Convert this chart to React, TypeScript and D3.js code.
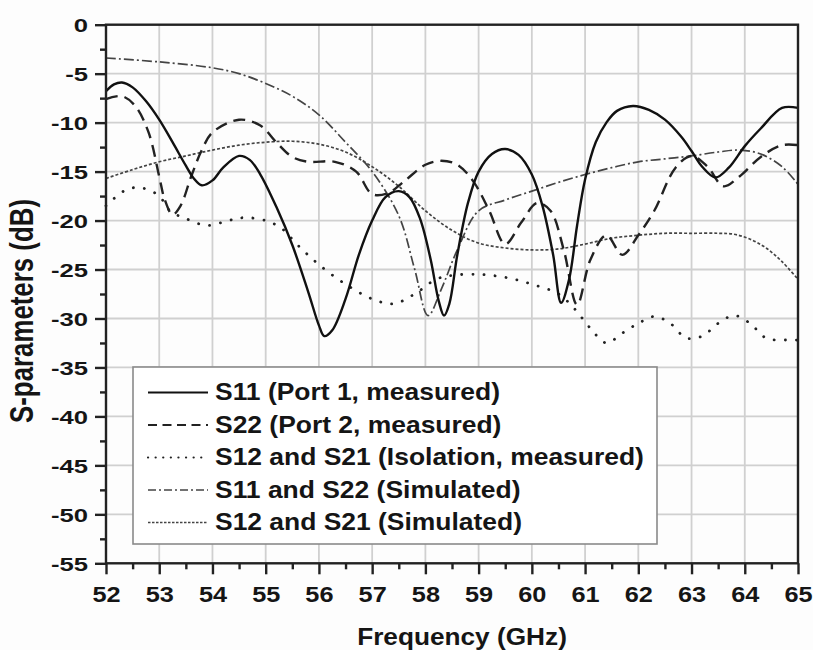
import React, { useEffect, useRef } from "react";
import * as d3 from "d3";

const xTicks = [52, 53, 54, 55, 56, 57, 58, 59, 60, 61, 62, 63, 64, 65];
const yTicks = [0, -5, -10, -15, -20, -25, -30, -35, -40, -45, -50, -55];

const s11Freq = [52, 52.15, 52.3, 52.5, 52.75, 53, 53.25, 53.5, 53.65, 53.8, 54, 54.2, 54.5, 54.7, 54.9, 55.2, 55.5, 55.8, 56, 56.1, 56.25, 56.5, 56.75, 57, 57.25, 57.5, 57.7, 57.9, 58.1, 58.25, 58.35, 58.45, 58.6, 58.8, 59, 59.25, 59.5, 59.75, 60, 60.2, 60.4, 60.55, 60.7, 60.85, 61, 61.2, 61.4, 61.6, 61.9, 62.2, 62.5, 62.8, 63.0, 63.2, 63.45, 63.7, 64.0, 64.3, 64.7, 65];
const s11Vals = [-6.8, -6.1, -5.9, -6.4, -7.8, -9.7, -12.0, -14.4, -15.7, -16.4, -15.9, -14.6, -13.4, -13.8, -15.3, -18.6, -22.5, -27.3, -30.7, -31.8, -31.2, -28.0, -23.5, -20.0, -17.6, -17.0, -17.6, -19.8, -24.0, -28.2, -29.7, -28.5, -23.5, -18.2, -15.0, -13.2, -12.7, -13.3, -15.3, -18.5, -23.5, -28.4, -26.0, -20.5, -15.8, -12.0, -10.0, -8.8, -8.3, -8.7, -9.7, -11.4, -12.9, -14.5, -15.6, -14.6, -12.4, -10.6, -8.5, -8.5];

const s22Freq = [52, 52.3, 52.55, 52.8, 53.0, 53.1, 53.25, 53.4, 53.6, 53.8, 54.0, 54.5, 54.9, 55.2, 55.5, 55.8, 56.3, 56.7, 57.0, 57.3, 57.6, 58.0, 58.3, 58.6, 58.9, 59.2, 59.5, 59.8, 60.1, 60.35, 60.6, 60.85, 61.1, 61.4, 61.7, 62.0, 62.3, 62.7, 63.0, 63.3, 63.6, 63.9, 64.3, 64.7, 65];
const s22Vals = [-7.6, -7.3, -8.3, -11.0, -15.5, -17.8, -19.4, -18.5, -15.5, -12.8, -11.0, -9.7, -10.3, -12.0, -13.5, -14.0, -14.0, -15.0, -17.3, -17.2, -16.0, -14.3, -13.9, -14.3, -16.0, -19.0, -22.4, -20.2, -18.2, -19.0, -23.0, -28.6, -24.0, -21.5, -23.5, -21.5, -19.0, -14.6, -13.4, -14.5, -16.5, -15.5, -13.5, -12.3, -12.3];

const isoFreq = [52, 52.4, 52.7, 53.0, 53.2, 53.5, 53.9, 54.3, 54.6, 55.0, 55.3, 55.6, 56.0, 56.5, 57.0, 57.4, 57.8, 58.2, 58.5, 59.0, 59.5, 60.0, 60.5, 60.8, 61.1, 61.4, 61.7, 62.0, 62.3, 62.6, 62.9, 63.2, 63.5, 63.8, 64.1, 64.4, 64.8, 65];
const isoVals = [-18.5, -16.8, -16.7, -17.5, -19.0, -19.8, -20.5, -20.0, -19.7, -20.0, -20.8, -22.5, -24.5, -26.5, -28.0, -28.5, -27.5, -26.0, -25.6, -25.5, -25.8, -26.5, -27.5, -29.0, -31.0, -32.5, -31.5, -30.5, -29.8, -30.5, -32.0, -31.8, -30.5, -29.7, -30.5, -32.0, -32.2, -32.2];

const simRFreq = [52, 53, 54, 54.5, 55, 55.5, 56, 56.5, 57, 57.5, 57.8, 58.05, 58.3, 58.6, 59, 59.5, 60, 60.5, 61, 61.5, 62, 62.5, 63, 63.5, 63.9, 64.3, 64.7, 65];
const simRVals = [-3.4, -3.8, -4.4, -5.0, -6.0, -7.3, -9.2, -12.0, -15.0, -19.5, -25.0, -29.7, -27.0, -23.0, -19.0, -17.9, -17.0, -16.1, -15.3, -14.6, -14.0, -13.7, -13.4, -13.0, -12.8, -13.2, -14.5, -16.3];

const simIFreq = [52, 52.5, 53, 53.5, 54, 54.5, 55, 55.5, 56, 56.5, 57, 57.5, 58, 58.5, 59, 59.5, 60, 60.5, 61, 61.5, 62, 62.5, 63, 63.5, 63.8, 64.1, 64.4, 64.7, 65];
const simIVals = [-15.7, -14.8, -14.0, -13.4, -12.8, -12.3, -12.0, -11.9, -12.2, -13.0, -14.5, -16.5, -19.0, -21.0, -22.3, -22.8, -23.0, -22.9, -22.4, -21.8, -21.5, -21.3, -21.3, -21.3, -21.4, -21.9, -22.8, -24.2, -26.0];

const legendLabels = [
  "S11 (Port 1, measured)",
  "S22 (Port 2, measured)",
  "S12 and S21 (Isolation, measured)",
  "S11 and S22 (Simulated)",
  "S12 and S21 (Simulated)",
];

const W = 813, H = 650;
const L = 106, R = 798, T = 24.7, B = 563.3;
const FONT = "'Liberation Sans', Arial, sans-serif";
const INK = "#151515";

const styles = [
  { stroke: "#111", width: 2.4, dash: null as string | null, cap: "butt" },
  { stroke: "#222", width: 2.4, dash: "12 7", cap: "butt" },
  { stroke: "#222", width: 2.8, dash: "0.1 11", cap: "round" },
  { stroke: "#444", width: 1.7, dash: "10 3 2 3", cap: "butt" },
  { stroke: "#444", width: 1.7, dash: "3 2", cap: "butt" },
];

export default function App() {
  const ref = useRef<SVGSVGElement>(null);
  useEffect(() => {
    const svg = d3.select(ref.current);
    svg.selectAll("*").remove();
    const x = d3.scaleLinear().domain([52, 65]).range([L, R]);
    const y = d3.scaleLinear().domain([-55, 0]).range([B, T]);

    svg.append("rect").attr("width", W).attr("height", H).attr("fill", "#fdfdfd");

    const g = svg.append("g");
    g.selectAll("line.gx").data(xTicks.slice(1, -1)).enter().append("line")
      .attr("x1", (d) => x(d)).attr("x2", (d) => x(d)).attr("y1", T).attr("y2", B)
      .attr("stroke", "#d0d0d0").attr("stroke-width", 1.8);
    g.selectAll("line.gy").data(yTicks.slice(1, -1)).enter().append("line")
      .attr("y1", (d) => y(d)).attr("y2", (d) => y(d)).attr("x1", L).attr("x2", R)
      .attr("stroke", "#d0d0d0").attr("stroke-width", 1.8);

    const series = [
      [s11Freq, s11Vals], [s22Freq, s22Vals], [isoFreq, isoVals], [simRFreq, simRVals], [simIFreq, simIVals],
    ];
    const line = d3.line<[number, number]>().x((d) => x(d[0])).y((d) => y(d[1])).curve(d3.curveCatmullRom.alpha(0.5));
    [4, 3, 2, 1, 0].forEach((i) => {
      const [fs, vs] = series[i];
      const pts = fs.map((f, k) => [f, vs[k]] as [number, number]);
      const st = styles[i];
      const p = g.append("path").attr("d", line(pts) as string).attr("fill", "none")
        .attr("stroke", st.stroke).attr("stroke-width", st.width).attr("stroke-linecap", st.cap);
      if (st.dash) p.attr("stroke-dasharray", st.dash);
    });

    // legend
    const lg = svg.append("g");
    lg.append("rect").attr("x", 133).attr("y", 367).attr("width", 524).attr("height", 177)
      .attr("fill", "#fff").attr("stroke", "#8a8a8a").attr("stroke-width", 1.6);
    legendLabels.forEach((lab, i) => {
      const base = 400 + i * 32.5;
      const cy = base - 7.5;
      const st = styles[i];
      const ln = lg.append("line").attr("x1", 148).attr("x2", 208).attr("y1", cy).attr("y2", cy)
        .attr("stroke", st.stroke).attr("stroke-width", i >= 3 ? 1.7 : 2.2).attr("stroke-linecap", st.cap);
      if (i === 1) ln.attr("stroke-dasharray", "9 5.5");
      else if (i === 2) ln.attr("stroke-dasharray", "0.1 7.5");
      else if (i === 3) ln.attr("stroke-dasharray", "8 3 2 3");
      else if (i === 4) ln.attr("stroke-dasharray", "2.5 1.5");
      lg.append("text").attr("transform", `translate(215,${base}) scale(1.15,1)`).text(lab)
        .attr("font-family", FONT).attr("font-weight", "bold").attr("font-size", 23).attr("fill", INK);
    });

    // frame
    svg.append("rect").attr("x", L).attr("y", T).attr("width", R - L).attr("height", B - T)
      .attr("fill", "none").attr("stroke", "#222").attr("stroke-width", 2.4);

    // x axis ticks
    const ax = svg.append("g").attr("transform", `translate(0,${B})`)
      .call(d3.axisBottom(x).tickValues(d3.range(52, 65.01, 0.5)).tickSize(0).tickFormat(() => ""));
    ax.select(".domain").remove();
    ax.selectAll(".tick line").remove();
    ax.selectAll(".tick").append("line")
      .attr("y2", (d: any) => (Number.isInteger(d) ? 11 : 6)).attr("stroke", "#222").attr("stroke-width", 2.4);
    ax.selectAll(".tick text").remove();
    ax.selectAll(".tick").filter((d: any) => Number.isInteger(d)).append("text")
      .attr("transform", "translate(0,38.7) scale(1.15,1)").attr("text-anchor", "middle")
      .attr("font-family", FONT).attr("font-weight", "bold").attr("font-size", 22).attr("fill", INK)
      .text((d: any) => String(d));

    // y axis ticks
    const ay = svg.append("g").attr("transform", `translate(${L},0)`)
      .call(d3.axisLeft(y).tickValues(d3.range(-55, 0.01, 2.5)).tickSize(0).tickFormat(() => ""));
    ay.select(".domain").remove();
    ay.selectAll(".tick line").remove();
    ay.selectAll(".tick").append("line")
      .attr("x2", (d: any) => (Number.isInteger(d / 5) ? -11 : -6)).attr("stroke", "#222").attr("stroke-width", 2.4);
    ay.selectAll(".tick text").remove();
    ay.selectAll(".tick").filter((d: any) => Number.isInteger(d / 5)).append("text")
      .attr("transform", "translate(-18,7) scale(1.35,1)").attr("text-anchor", "end")
      .attr("font-family", FONT).attr("font-weight", "bold").attr("font-size", 19).attr("fill", INK)
      .text((d: any) => String(d));

    svg.append("text").attr("transform", `translate(462,645) scale(1.14,1)`).attr("text-anchor", "middle")
      .attr("font-family", FONT).attr("font-weight", "bold").attr("font-size", 23).attr("fill", INK)
      .text("Frequency (GHz)");
    svg.append("text").attr("transform", `translate(33,311) rotate(-90) scale(1,1.35)`).attr("text-anchor", "middle")
      .attr("font-family", FONT).attr("font-weight", "bold").attr("font-size", 25).attr("fill", INK)
      .attr("textLength", 224).attr("lengthAdjust", "spacingAndGlyphs")
      .text("S-parameters (dB)");
  }, []);
  return (
    <svg ref={ref} width={W} height={H} style={{ position: "absolute", left: 0, top: 0 }} />
  );
}
